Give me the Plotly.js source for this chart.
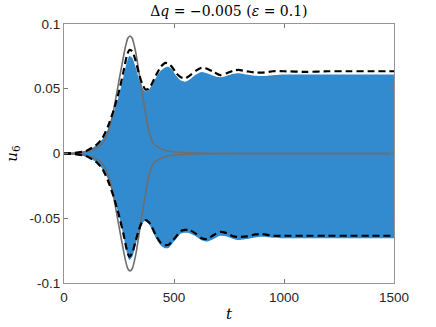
<!DOCTYPE html>
<html>
<head>
<meta charset="utf-8">
<script src="https://cdn.plot.ly/plotly-3.0.1.min.js"></script>
<style>
  body { margin: 0; background: #fff; }
  #chart { width: 436px; height: 327px; }
</style>
</head>
<body>
<div id="chart"></div>
<script>
const tSamples = [0, 50, 100, 150, 175, 200, 225, 250, 270, 285, 297, 310, 325, 340, 355, 370, 385, 400, 420, 440,
  460, 475, 490, 510, 530, 550, 570, 600, 626, 650, 680, 709, 740, 770, 793, 830, 870, 900, 950, 1000,
  1100, 1200, 1300, 1400, 1500];

// blue signal band (top and bottom of the fast oscillation)
const bandTop = [0.0003, 0.0008, 0.002, 0.0065, 0.011, 0.019, 0.031, 0.045, 0.059, 0.070, 0.0753, 0.074, 0.067, 0.058,
  0.051, 0.048, 0.049, 0.053, 0.059, 0.064, 0.0665, 0.067, 0.065, 0.060, 0.0565, 0.0555, 0.057, 0.061, 0.063, 0.062,
  0.060, 0.0588, 0.060, 0.0615, 0.062, 0.061, 0.060, 0.0598, 0.0605, 0.061, 0.061, 0.061, 0.061, 0.061, 0.061];
const bandBottom = [-0.0003, -0.001, -0.0025, -0.007, -0.012, -0.020, -0.033, -0.048, -0.063, -0.076, -0.0822, -0.080,
  -0.071, -0.061, -0.054, -0.052, -0.054, -0.059, -0.066, -0.071, -0.0732, -0.073, -0.070, -0.066, -0.062, -0.0612,
  -0.0616, -0.064, -0.067, -0.068, -0.066, -0.0635, -0.064, -0.066, -0.0668, -0.066, -0.0648, -0.0642, -0.065, -0.0655,
  -0.0655, -0.0655, -0.0655, -0.0655, -0.0655];

// dashed black envelope
const envUpper = [0, 0.0005, 0.002, 0.007, 0.012, 0.021, 0.033, 0.048, 0.063, 0.075, 0.080, 0.079, 0.072, 0.062, 0.054,
  0.0495, 0.050, 0.054, 0.061, 0.067, 0.070, 0.0695, 0.067, 0.062, 0.059, 0.058, 0.060, 0.064, 0.0663, 0.0655, 0.063,
  0.0606, 0.062, 0.064, 0.0645, 0.0635, 0.0625, 0.0624, 0.0635, 0.0635, 0.063, 0.0635, 0.0635, 0.0635, 0.0635];
const envLower = [0, -0.0005, -0.002, -0.007, -0.012, -0.021, -0.033, -0.048, -0.062, -0.074, -0.0797, -0.077, -0.068,
  -0.059, -0.053, -0.0515, -0.053, -0.057, -0.064, -0.069, -0.0707, -0.0705, -0.068, -0.064, -0.060, -0.059, -0.059,
  -0.062, -0.0655, -0.066, -0.063, -0.0605, -0.0615, -0.064, -0.0645, -0.064, -0.0625, -0.0622, -0.0635, -0.0635,
  -0.0635, -0.0635, -0.0635, -0.0635, -0.0635];

// grey pulse (drawn as +/-)
const pulseT = [0, 50, 100, 130, 160, 180, 200, 210, 225, 240, 255, 270, 280, 290, 300, 310, 320, 330, 345, 355, 370,
  380, 391, 405, 430, 470, 520, 600, 800, 1500];
const pulseAmp = [0, 0.0003, 0.0015, 0.0028, 0.0055, 0.009, 0.016, 0.022, 0.033, 0.047, 0.061, 0.0745, 0.083, 0.089,
  0.0907, 0.089, 0.083, 0.0745, 0.058, 0.047, 0.032, 0.022, 0.0143, 0.008, 0.0045, 0.002, 0.001, 0.0003, 0, 0];

// axis ticks
const xTicks = [0, 500, 1000, 1500];
const xTickText = ["0", "500", "1000", "1500"];
const yTicks = [-0.1, -0.05, 0, 0.05, 0.1];
const yTickText = ["-0.1", "-0.05", "0", "0.05", "0.1"];

const blue = "rgb(50,139,207)";
const grey = "rgb(110,110,110)";

const data = [
  {
    x: tSamples, y: bandBottom, mode: "lines", line: { width: 0, color: blue, shape: "spline", smoothing: 0.6 },
    hoverinfo: "skip", showlegend: false
  },
  {
    x: tSamples, y: bandTop, mode: "lines", fill: "tonexty", fillcolor: blue,
    line: { width: 0, color: blue, shape: "spline", smoothing: 0.6 }, showlegend: false
  },
  {
    x: pulseT, y: pulseAmp, mode: "lines", line: { color: grey, width: 1.6, shape: "spline", smoothing: 0.6 },
    showlegend: false
  },
  {
    x: pulseT, y: pulseAmp.map((v) => -v), mode: "lines",
    line: { color: grey, width: 1.6, shape: "spline", smoothing: 0.6 }, showlegend: false
  },
  {
    x: tSamples, y: envUpper, mode: "lines",
    line: { color: "black", width: 2.2, dash: "7px,4px", shape: "spline", smoothing: 0.6 }, showlegend: false
  },
  {
    x: tSamples, y: envLower, mode: "lines",
    line: { color: "black", width: 2.2, dash: "7px,4px", shape: "spline", smoothing: 0.6 }, showlegend: false
  },
];

const axisCommon = {
  showline: true, mirror: "allticks", linecolor: "rgb(150,150,150)", linewidth: 1,
  ticks: "inside", ticklen: 4, tickcolor: "rgb(120,120,120)", tickwidth: 1,
  showgrid: false, zeroline: false,
  tickfont: { family: "Liberation Sans, Arial, sans-serif", size: 13.5, color: "rgb(38,38,38)" },
};

const layout = {
  width: 436, height: 327,
  margin: { l: 64, r: 42, t: 24, b: 44 },
  paper_bgcolor: "white", plot_bgcolor: "white",
  title: {
    text: "Δ<i>q</i> = −0.005 (<i>ε</i> = 0.1)",
    font: { family: "DejaVu Serif, serif", size: 14, color: "black" },
    x: 0.525, xanchor: "center", y: 0.965, yanchor: "middle",
  },
  xaxis: Object.assign({}, axisCommon, {
    range: [0, 1500], tickvals: xTicks, ticktext: xTickText, ticklabelstandoff: 2,
    title: { text: "<i>t</i>", font: { family: "DejaVu Serif, serif", size: 15, color: "black" }, standoff: 4 },
  }),
  yaxis: Object.assign({}, axisCommon, {
    range: [-0.1, 0.1], tickvals: yTicks, ticktext: yTickText,
    title: { text: "<i>u</i><sub>6</sub>", font: { family: "DejaVu Serif, serif", size: 15, color: "black" }, standoff: 8 },
  }),
};

Plotly.newPlot("chart", data, layout, { displayModeBar: false, staticPlot: true });
</script>
</body>
</html>
